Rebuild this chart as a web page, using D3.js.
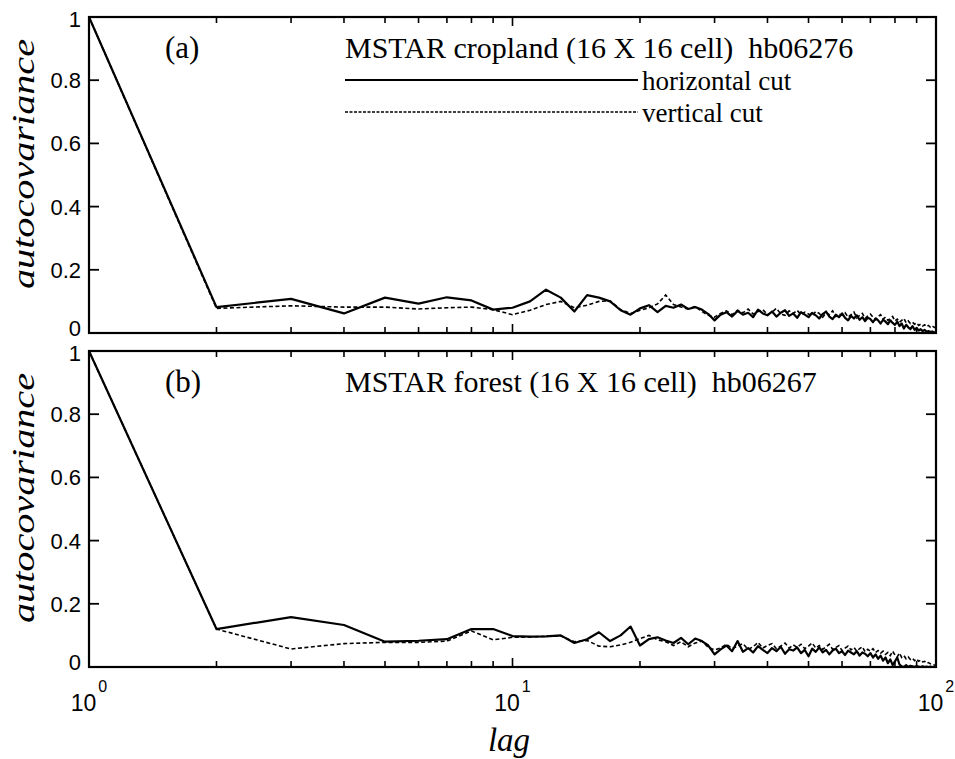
<!DOCTYPE html>
<html><head><meta charset="utf-8">
<script src="https://cdn.jsdelivr.net/npm/d3@7"></script>
<style>
html,body{margin:0;padding:0;background:#fff;}
svg{display:block;}
.serif{font-family:"Liberation Serif","Times New Roman",serif;}
.sans{font-family:"Liberation Sans",Arial,sans-serif;}
</style></head>
<body>
<svg id="c" width="955" height="759"></svg>
<script>
// ---- data (lag = 1..100) ----
const lags = d3.range(1, 101);
const cropHorizontal = [1.0,0.082,0.108,0.062,0.112,0.093,0.113,0.103,0.074,0.080,
0.100,0.137,0.112,0.068,0.120,0.112,0.100,0.072,0.058,0.078,
0.088,0.066,0.086,0.080,0.090,0.076,0.082,0.074,0.060,0.040,
0.058,0.066,0.052,0.070,0.058,0.064,0.050,0.074,0.062,0.056,
0.068,0.052,0.064,0.072,0.054,0.062,0.048,0.066,0.058,0.050,
0.064,0.056,0.046,0.060,0.068,0.052,0.044,0.058,0.050,0.062,
0.048,0.040,0.054,0.046,0.056,0.042,0.050,0.038,0.048,0.044,
0.034,0.046,0.040,0.030,0.042,0.036,0.028,0.040,0.032,0.026,
0.036,0.022,0.030,0.014,0.026,0.018,0.012,0.022,0.010,0.016,
0.008,0.012,0.006,0.010,0.004,0.006,0.003,0.005,0.002,0.001];
const cropVertical = [1.0,0.078,0.086,0.082,0.082,0.076,0.080,0.082,0.074,0.058,
0.072,0.090,0.100,0.080,0.088,0.100,0.102,0.074,0.062,0.072,
0.080,0.092,0.120,0.090,0.082,0.076,0.084,0.068,0.056,0.050,
0.062,0.070,0.058,0.072,0.064,0.076,0.060,0.068,0.074,0.058,
0.066,0.078,0.060,0.056,0.070,0.062,0.072,0.058,0.066,0.060,
0.054,0.068,0.062,0.050,0.064,0.058,0.070,0.052,0.060,0.056,
0.064,0.050,0.058,0.066,0.048,0.056,0.062,0.046,0.054,0.060,
0.050,0.042,0.052,0.058,0.044,0.050,0.040,0.046,0.052,0.038,
0.044,0.034,0.040,0.046,0.032,0.038,0.030,0.034,0.028,0.032,
0.024,0.028,0.022,0.026,0.020,0.024,0.018,0.022,0.018,0.016];
const forestHorizontal = [1.0,0.120,0.158,0.133,0.080,0.083,0.088,0.120,0.120,0.098,
0.096,0.097,0.100,0.076,0.088,0.110,0.082,0.100,0.128,0.068,
0.088,0.094,0.084,0.076,0.092,0.072,0.090,0.082,0.068,0.040,
0.056,0.068,0.050,0.082,0.048,0.060,0.046,0.066,0.054,0.044,
0.060,0.050,0.064,0.042,0.056,0.052,0.062,0.044,0.054,0.034,
0.058,0.048,0.062,0.046,0.054,0.040,0.052,0.058,0.044,0.050,
0.038,0.052,0.046,0.040,0.050,0.036,0.046,0.042,0.034,0.044,
0.030,0.040,0.026,0.036,0.020,0.030,0.012,0.024,0.006,0.018,
0.030,0.008,0.002,0.000,0.006,0.000,0.004,0.002,0.000,0.003,
0.001,0.000,0.002,0.000,0.001,0.000,0.001,0.000,0.000,0.000];
const forestVertical = [1.0,0.120,0.057,0.074,0.078,0.078,0.082,0.114,0.086,0.094,
0.095,0.097,0.098,0.080,0.084,0.066,0.064,0.070,0.078,0.090,
0.100,0.086,0.080,0.068,0.080,0.064,0.076,0.082,0.062,0.054,
0.060,0.072,0.058,0.066,0.074,0.056,0.064,0.078,0.060,0.068,
0.074,0.058,0.066,0.076,0.060,0.070,0.062,0.072,0.058,0.066,
0.076,0.060,0.068,0.056,0.064,0.072,0.056,0.062,0.068,0.052,
0.060,0.066,0.054,0.062,0.050,0.058,0.064,0.048,0.056,0.050,
0.058,0.046,0.052,0.044,0.050,0.040,0.046,0.036,0.050,0.038,
0.032,0.044,0.030,0.036,0.026,0.032,0.024,0.028,0.020,0.026,
0.018,0.022,0.016,0.018,0.012,0.014,0.010,0.008,0.006,0.004];
const yTickValues = [0, 0.2, 0.4, 0.6, 0.8, 1];
const yTickLabels = ["0", "0.2", "0.4", "0.6", "0.8", "1"];
const xTickValues = [1, 10, 100];
const xTickExponents = ["0", "1", "2"];
const legendLabels = ["horizontal cut", "vertical cut"];
const panels = [
  {tag: "(a)", title: "MSTAR cropland (16 X 16 cell)  hb06276", h: cropHorizontal, v: cropVertical, top: 17, legend: true},
  {tag: "(b)", title: "MSTAR forest (16 X 16 cell)  hb06267", h: forestHorizontal, v: forestVertical, top: 351, legend: false}
];

// ---- layout ----
const L = 89, R = 936, PH = 316;
const svg = d3.select("#c");
const x = d3.scaleLog().domain([1, 100]).range([L, R]);

panels.forEach(p => {
  const y = d3.scaleLinear().domain([0, 1]).range([p.top + PH, p.top]);
  const g = svg.append("g");

  // data lines
  const line = d3.line().x((d, i) => x(lags[i])).y(d => y(d));
  g.append("path").datum(p.v).attr("d", line)
    .attr("fill", "none").attr("stroke", "#000").attr("stroke-width", 1.6)
    .attr("stroke-dasharray", "4,2.5");
  g.append("path").datum(p.h).attr("d", line)
    .attr("fill", "none").attr("stroke", "#000").attr("stroke-width", 2.2)
    .attr("stroke-linejoin", "round");

  // frame
  g.append("rect").attr("x", L).attr("y", p.top).attr("width", R - L).attr("height", PH)
    .attr("fill", "none").attr("stroke", "#000").attr("stroke-width", 2.2);

  // x ticks (inward, top and bottom)
  x.ticks().forEach(t => {
    const major = xTickValues.includes(t);
    const len = major ? 9 : 6;
    g.append("line").attr("x1", x(t)).attr("x2", x(t))
      .attr("y1", p.top + PH).attr("y2", p.top + PH - len)
      .attr("stroke", "#000").attr("stroke-width", 1.6);
    g.append("line").attr("x1", x(t)).attr("x2", x(t))
      .attr("y1", p.top).attr("y2", p.top + len)
      .attr("stroke", "#000").attr("stroke-width", 1.6);
  });
  // y ticks (inward, left and right) + labels
  yTickValues.forEach((t, i) => {
    g.append("line").attr("x1", L).attr("x2", L + 10).attr("y1", y(t)).attr("y2", y(t))
      .attr("stroke", "#000").attr("stroke-width", 1.8);
    g.append("line").attr("x1", R).attr("x2", R - 10).attr("y1", y(t)).attr("y2", y(t))
      .attr("stroke", "#000").attr("stroke-width", 1.8);
    const off = t === 0 ? 3 : (t === 1 ? 10 : 8);
    g.append("text").attr("class", "sans").attr("x", L - 8).attr("y", y(t) + off)
      .attr("text-anchor", "end").attr("font-size", 22).attr("fill", "#000")
      .text(yTickLabels[i]);
  });

  // y label
  g.append("text").attr("class", "serif")
    .attr("transform", `translate(34,${p.top + PH / 2 - 11}) rotate(-90)`)
    .attr("text-anchor", "middle").attr("font-size", 31).attr("font-style", "italic")
    .attr("textLength", 250).attr("lengthAdjust", "spacingAndGlyphs")
    .text("autocovariance");

  // panel tag and title
  g.append("text").attr("class", "serif").attr("x", 165).attr("y", p.top + 41)
    .attr("font-size", 31).text(p.tag);
  g.append("text").attr("class", "serif").attr("x", 345).attr("y", p.top + 41)
    .attr("font-size", 30).style("white-space", "pre").text(p.title);

  if (p.legend) {
    const ly = [p.top + 63, p.top + 95];
    g.append("line").attr("x1", 345).attr("x2", 638).attr("y1", ly[0]).attr("y2", ly[0])
      .attr("stroke", "#000").attr("stroke-width", 2);
    g.append("line").attr("x1", 345).attr("x2", 638).attr("y1", ly[1]).attr("y2", ly[1])
      .attr("stroke", "#000").attr("stroke-width", 1.4).attr("stroke-dasharray", "3,1.5");
    legendLabels.forEach((lab, i) => {
      g.append("text").attr("class", "serif").attr("x", 642).attr("y", ly[i] + 10)
        .attr("font-size", 27).text(lab);
    });
  }
});

// x tick labels (bottom only)
xTickValues.forEach((t, i) => {
  const txt = svg.append("text").attr("class", "sans").attr("x", x(t)).attr("y", 711)
    .attr("text-anchor", "middle").attr("font-size", 23);
  txt.append("tspan").text("10");
  txt.append("tspan").attr("dy", -19).attr("dx", 2).attr("font-size", 16).text(xTickExponents[i]);
});

// x label
svg.append("text").attr("class", "serif").attr("x", 509).attr("y", 751)
  .attr("text-anchor", "middle").attr("font-size", 33).attr("font-style", "italic").text("lag");
</script>
</body></html>
